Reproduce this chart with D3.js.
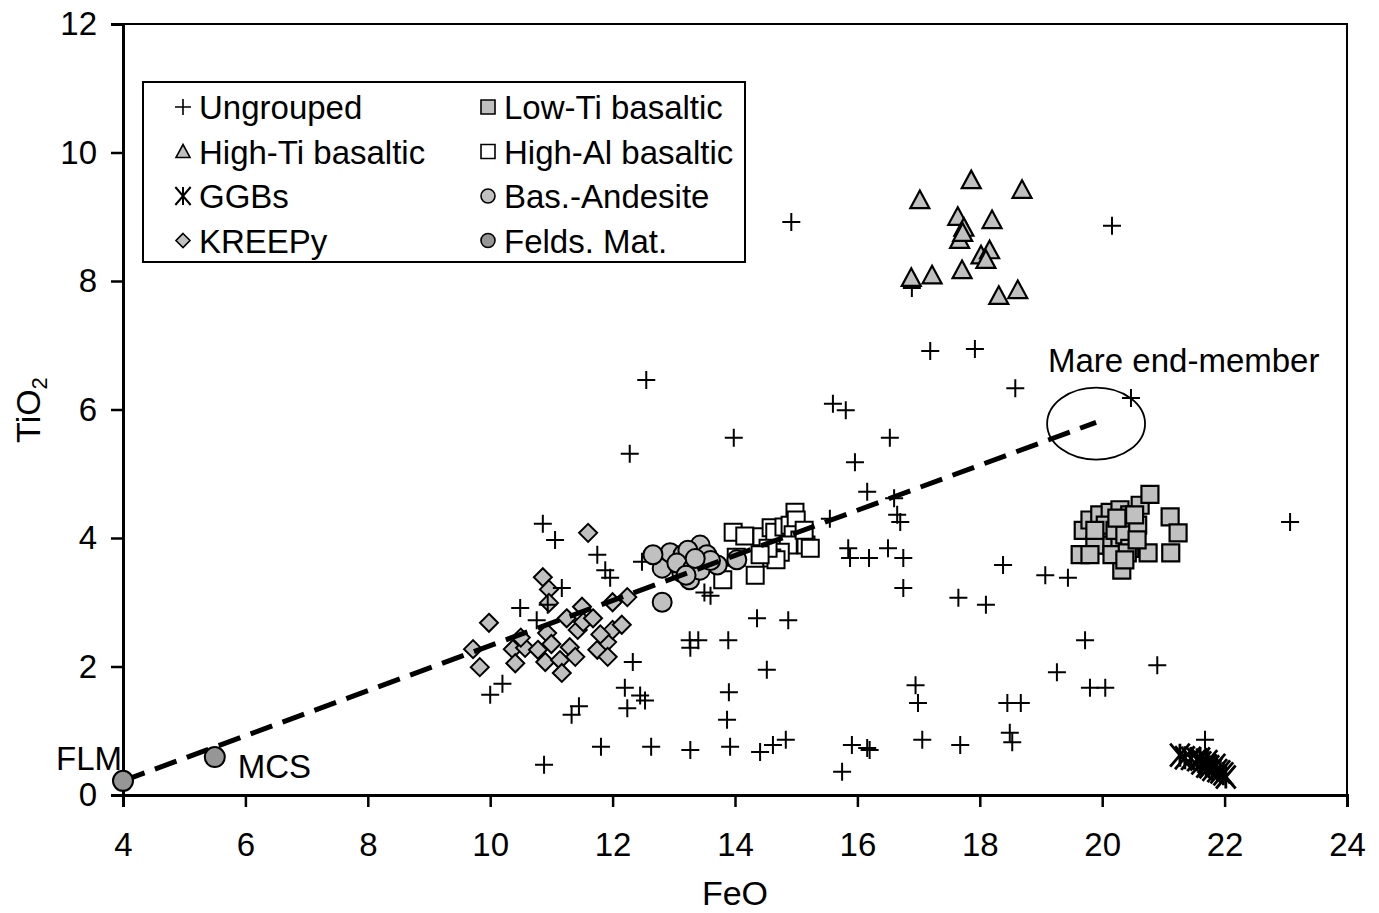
<!DOCTYPE html>
<html>
<head>
<meta charset="utf-8">
<script src="https://cdn.jsdelivr.net/npm/d3@7"></script>
<style>
body { margin: 0; background: #fff; }
text { font-family: "Liberation Sans", Arial, sans-serif; fill: #000; }
</style>
</head>
<body>
<svg id="chart" width="1379" height="913"></svg>
<script>
// FeO / TiO2 pairs
var ungrouped = [
	[14.92,8.92],[20.16,8.86],[16.89,7.89],[17.19,6.91],[17.92,6.94],[12.55,6.46],[18.58,6.33],[20.47,6.18],
	[15.6,6.09],[15.81,5.99],[13.98,5.56],[16.53,5.56],[12.28,5.31],[15.96,5.18],[16.16,4.72],[23.07,4.25],
	[16.6,4.62],[16.65,4.36],[16.7,4.25],[15.55,4.3],[15.85,3.84],[15.88,3.69],[16.19,3.69],[16.5,3.84],
	[16.75,3.69],[16.75,3.22],[17.65,3.07],[18.1,2.96],[18.38,3.58],[19.07,3.42],[19.44,3.38],[19.72,2.41],
	[19.26,1.91],[19.8,1.67],[20.05,1.67],[20.9,2.02],[16.95,1.71],[16.99,1.43],[17.06,0.86],[17.68,0.78],
	[18.45,1.43],[18.67,1.43],[18.49,0.97],[18.53,0.82],[21.68,0.86],[15.91,0.78],[15.75,0.36],[16.16,0.73],
	[16.2,0.7],[13.27,0.7],[13.26,2.41],[13.27,2.29],[13.4,2.41],[13.5,3.15],[13.6,3.1],[13.89,2.41],
	[13.9,1.6],[13.87,1.17],[13.92,0.75],[14.36,2.75],[14.52,1.95],[14.41,0.67],[14.62,0.78],[14.83,0.86],
	[14.87,2.72],[12.63,0.75],[12.2,1.67],[12.24,1.35],[12.33,2.07],[12.45,1.55],[12.53,1.47],[12.48,3.63],
	[11.81,0.75],[10.88,0.47],[11.33,1.25],[11.45,1.38],[10.0,1.56],[10.2,1.73],[10.49,2.91],[10.76,2.72],
	[10.94,2.96],[11.17,3.22],[10.86,4.22],[11.06,3.97],[11.75,3.74],[11.88,3.5],[11.96,3.38],[21.7,0.55]
];
var highTi = [
	[17.86,9.57],[18.69,9.42],[17.02,9.26],[17.64,9.0],[17.74,8.83],[18.2,8.95],[17.67,8.64],[17.72,8.75],
	[18.02,8.4],[18.16,8.48],[18.1,8.33],[17.71,8.17],[17.22,8.09],[16.88,8.05],[18.31,7.77],[18.62,7.86]
];
var ggbs = [
	[21.27,0.62],[21.35,0.58],[21.45,0.57],[21.55,0.55],[21.62,0.5],[21.7,0.45],[21.75,0.44],[21.8,0.4],
	[21.88,0.38],[21.93,0.36],[21.98,0.33],[21.85,0.46],[21.6,0.56],[21.72,0.52],[22.02,0.28]
];
var kreepy = [
	[10.86,3.39],[10.96,3.2],[10.96,2.99],[9.98,2.68],[9.72,2.27],[9.83,1.99],[10.93,2.52],[10.37,2.27],
	[10.57,2.29],[10.78,2.26],[10.41,2.05],[10.9,2.07],[11.14,2.1],[11.17,1.9],[11.3,2.3],[11.39,2.15],
	[11.43,2.57],[11.5,2.93],[11.52,2.69],[11.68,2.75],[11.75,2.26],[11.91,2.38],[11.92,2.15],[12.0,2.57],
	[12.15,2.65],[12.24,3.08],[12.0,3.0],[11.25,2.75],[11.6,4.08],[10.5,2.45],[11.0,2.35],[11.8,2.5]
];
var lowTi = [
	[19.64,3.74],[19.69,4.12],[19.8,4.28],[19.96,4.36],[20.13,4.4],[20.29,4.44],[20.45,4.36],[20.62,4.51],
	[20.78,4.68],[21.11,4.33],[21.24,4.08],[21.12,3.77],[20.75,3.77],[20.32,3.5],[19.96,3.97],[20.13,3.89],
	[20.29,3.97],[19.88,3.89],[20.05,4.2],[20.21,4.12],[20.37,4.05],[20.45,3.84],[20.58,4.2],[19.8,3.74],
	[20.16,3.74],[20.41,3.77],[20.57,3.97],[19.88,4.12],[20.24,4.31],[20.37,3.66],[20.53,4.36]
];
var highAl = [
	[14.98,4.4],[13.97,4.09],[14.16,4.03],[14.44,4.02],[14.59,4.16],[14.65,4.09],[14.8,4.17],[14.9,4.2],
	[15.0,4.28],[14.95,4.05],[15.06,3.97],[15.16,3.89],[15.23,3.84],[14.87,3.89],[14.74,3.78],[14.6,3.69],
	[14.33,3.42],[14.02,3.7],[14.67,3.66],[14.54,3.84],[14.41,3.74],[15.13,4.12],[13.8,3.35]
];
var basAndesite = [
	[12.81,3.53],[12.94,3.77],[13.15,3.74],[13.43,3.89],[13.54,3.74],[13.71,3.58],[13.23,3.81],[13.13,3.46],
	[13.26,3.35],[12.81,3.0],[14.03,3.66],[12.66,3.74],[13.05,3.61],[13.31,3.53],[13.43,3.5],[13.2,3.42],
	[13.6,3.65],[13.35,3.68]
];
var feldsMat = [[4.0,0.22],[5.5,0.59]];
var feldsLabels = ['FLM', 'MCS'];
var mixingLine = [[4.0,0.22],[19.9,5.8]];
var mareEnd = {FeO: 19.9, TiO2: 5.78, dFeO: 0.8, dTiO2: 0.56};

var xTicks = [4,6,8,10,12,14,16,18,20,22,24];
var yTicks = [0,2,4,6,8,10,12];

var legendNames = ['Ungrouped','High-Ti basaltic','GGBs','KREEPy','Low-Ti basaltic','High-Al basaltic','Bas.-Andesite','Felds. Mat.'];
var legendKeys = ['plus','tri','ast','dia','sqGrey','sqOpen','circ','circDark'];

var svg = d3.select('#chart');
var x = d3.scaleLinear().domain([4,24]).range([123,1347]);
var y = d3.scaleLinear().domain([0,12]).range([795,24]);
var FS = '33px';

function symbolPath(kind, s) {
	// s = half size
	switch (kind) {
		case 'plus': return 'M' + (-s) + ',0H' + s + 'M0,' + (-s) + 'V' + s;
		case 'tri': return 'M0,' + (-s) + 'L' + s + ',' + (s*0.85) + 'L' + (-s) + ',' + (s*0.85) + 'Z';
		case 'ast': return 'M' + (-s*0.85) + ',' + (-s) + 'L' + (s*0.85) + ',' + s + 'M' + (-s*0.85) + ',' + s + 'L' + (s*0.85) + ',' + (-s) + 'M0,' + (-s) + 'V' + s;
		case 'dia': return 'M0,' + (-s) + 'L' + s + ',0L0,' + s + 'L' + (-s) + ',0Z';
		case 'sqGrey':
		case 'sqOpen': return 'M' + (-s) + ',' + (-s) + 'H' + s + 'V' + s + 'H' + (-s) + 'Z';
		default: return d3.arc()({innerRadius: 0, outerRadius: s, startAngle: 0, endAngle: 2*Math.PI});
	}
}
var fills = {plus: 'none', tri: '#c0c0c0', ast: 'none', dia: '#c0c0c0', sqGrey: '#c0c0c0', sqOpen: '#fff', circ: '#c0c0c0', circDark: '#969696'};

function drawSeries(data, kind, s, sw) {
	svg.append('g').selectAll('path')
		.data(data)
		.enter()
		.append('path')
		.attr('transform', function(d) { return 'translate(' + x(d[0]) + ',' + y(d[1]) + ')'; })
		.attr('d', symbolPath(kind, s))
		.style('fill', fills[kind])
		.style('stroke', '#000')
		.style('stroke-width', sw);
}

// axes
var xAxis = d3.axisBottom(x).tickValues(xTicks).tickSize(12).tickPadding(26).tickFormat(d3.format('d'));
var yAxis = d3.axisLeft(y).tickValues(yTicks).tickSize(12).tickPadding(14).tickFormat(d3.format('d'));

svg.append('rect')
	.attr('x', 123).attr('y', 24).attr('width', 1347-123).attr('height', 795-24)
	.style('fill', 'none').style('stroke', '#000').style('stroke-width', 2);

var gx = svg.append('g').attr('transform', 'translate(0,795)').call(xAxis);
var gy = svg.append('g').attr('transform', 'translate(123,0)').call(yAxis);
[gx, gy].forEach(function(g) {
	g.select('.domain').style('stroke', '#000').style('stroke-width', 3);
	g.selectAll('.tick line').style('stroke', '#000').style('stroke-width', 2.5);
	g.selectAll('.tick text').style('font-size', FS).style('font-family', '"Liberation Sans", Arial, sans-serif').style('fill', '#000');
});

svg.append('text').attr('x', 735).attr('y', 905).attr('text-anchor', 'middle')
	.style('font-size', '34px').text('FeO');
var yt = svg.append('text').attr('transform', 'translate(40,410) rotate(-90)').attr('text-anchor', 'middle')
	.style('font-size', '34px');
yt.append('tspan').text('TiO');
yt.append('tspan').attr('dy', 7).style('font-size', '22px').text('2');

// data series
drawSeries(kreepy, 'dia', 9, 2);
drawSeries(ungrouped, 'plus', 9, 2);
drawSeries(highTi, 'tri', 9.5, 2.2);
drawSeries(lowTi, 'sqGrey', 8.5, 2.2);
drawSeries(highAl, 'sqOpen', 8.5, 2);
drawSeries(basAndesite, 'circ', 9.5, 2);
drawSeries(ggbs, 'ast', 11.5, 2.8);

// mixing line and mare end-member
svg.append('path')
	.datum(mixingLine)
	.attr('d', d3.line().x(function(d){ return x(d[0]); }).y(function(d){ return y(d[1]); }))
	.style('fill', 'none').style('stroke', '#000').style('stroke-width', 5).style('stroke-dasharray', '23,11');

svg.append('ellipse')
	.attr('cx', x(mareEnd.FeO)).attr('cy', y(mareEnd.TiO2))
	.attr('rx', x(mareEnd.FeO + mareEnd.dFeO) - x(mareEnd.FeO))
	.attr('ry', y(mareEnd.TiO2) - y(mareEnd.TiO2 + mareEnd.dTiO2))
	.style('fill', 'none').style('stroke', '#000').style('stroke-width', 1.8);

svg.append('text').attr('x', 1048).attr('y', 372).style('font-size', FS).text('Mare end-member');

drawSeries(feldsMat, 'circDark', 10, 2);
svg.append('text').attr('x', x(feldsMat[0][0]) - 67).attr('y', 770).style('font-size', FS).text(feldsLabels[0]);
svg.append('text').attr('x', x(feldsMat[1][0]) + 23).attr('y', 778).style('font-size', FS).text(feldsLabels[1]);

// legend
var lg = svg.append('g');
lg.append('rect').attr('x', 143).attr('y', 82).attr('width', 602).attr('height', 180)
	.style('fill', '#fff').style('stroke', '#000').style('stroke-width', 2);
legendNames.forEach(function(name, i) {
	var col = Math.floor(i / 4), row = i % 4;
	var sx = col ? 488 : 183, sy = 107 + row * 44.5;
	var k = legendKeys[i];
	lg.append('path')
		.attr('transform', 'translate(' + sx + ',' + sy + ')')
		.attr('d', symbolPath(k, k == 'ast' ? 9 : (k == 'plus' ? 8 : 7)))
		.style('fill', fills[k]).style('stroke', '#000').style('stroke-width', k == 'ast' ? 2 : 1.6);
	lg.append('text').attr('x', sx + 16).attr('y', sy + 12).style('font-size', FS).text(name);
});
</script>
</body>
</html>
